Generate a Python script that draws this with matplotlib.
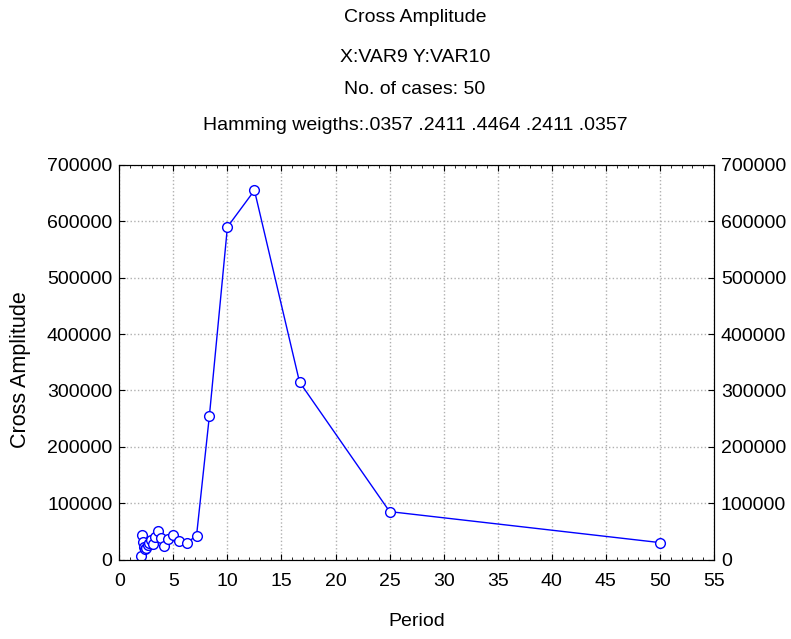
import matplotlib.pyplot as plt
from matplotlib.ticker import MultipleLocator

plt.rcParams['font.family'] = ['Liberation Sans', 'DejaVu Sans']

# periods (50/k) and cross amplitude
period = [2.0, 2.083, 2.174, 2.273, 2.381, 2.5, 2.632, 2.778, 2.941, 3.125,
          3.333, 3.571, 3.846, 4.167, 4.545, 5.0, 5.556, 6.25, 7.143, 8.333,
          10.0, 12.5, 16.667, 25.0, 50.0]
amplitude = [7000, 43000, 31000, 22000, 18000, 21000, 26000, 30000, 35000, 27000,
             40000, 51000, 38000, 24000, 37000, 44000, 32000, 30000, 42000, 255000,
             590000, 655000, 315000, 85000, 30000]

titles = ["Cross Amplitude", "X:VAR9 Y:VAR10", "No. of cases: 50",
          "Hamming weigths:.0357 .2411 .4464 .2411 .0357"]
title_y = [17, 57, 90, 125]

fig = plt.figure(figsize=(7.91, 6.39), dpi=100)
ax = fig.add_axes([0.1508, 0.1244, 0.7519, 0.6174])

ax.plot(period, amplitude, color="#0000ff", linewidth=1, marker="o",
        markersize=7, markerfacecolor="white", markeredgecolor="#0000ff",
        markeredgewidth=1)

ax.set_xlim(0, 55)
ax.set_ylim(0, 700000)
ax.xaxis.set_major_locator(MultipleLocator(5))
ax.xaxis.set_minor_locator(MultipleLocator(1))
ax.yaxis.set_major_locator(MultipleLocator(100000))
ax.grid(True, which="major", color="#b0b0b0", linestyle=":", linewidth=1)
ax.tick_params(which="both", direction="in", top=True, labelsize=14)
ax.tick_params(axis="x", which="major", length=4, pad=10)
ax.tick_params(axis="y", which="major", length=4, pad=5)
ax.tick_params(which="minor", length=2.5)
for s in ax.spines.values():
    s.set_color("#333333")

ax2 = ax.twinx()
ax2.set_ylim(0, 700000)
ax2.yaxis.set_major_locator(MultipleLocator(100000))
ax2.tick_params(direction="in", length=4, pad=5, labelsize=14)

fig.text(417 / 791, 1 - 622 / 639, "Period", ha="center", va="center", fontsize=14)
fig.text(21 / 791, 1 - 370 / 639, "Cross Amplitude", ha="center", va="center",
         rotation=90, fontsize=15.5)

for t, y in zip(titles, title_y):
    fig.text(415 / 791, 1 - y / 639, t, ha="center", va="center", fontsize=14)

fig.savefig("out.png", dpi=100)
